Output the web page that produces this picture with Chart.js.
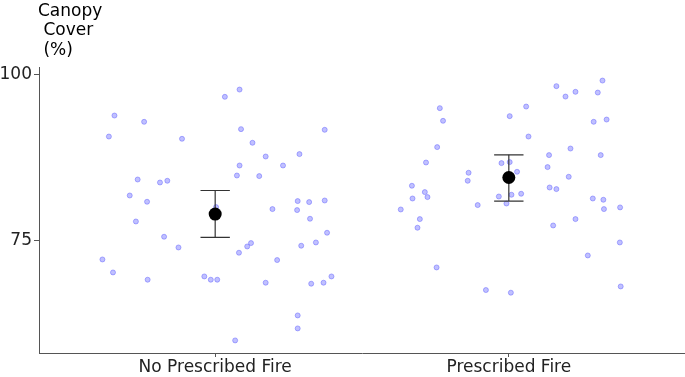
<!DOCTYPE html>
<html>
<head>
<meta charset="utf-8">
<script src="https://cdn.jsdelivr.net/npm/chart.js@4.4.1/dist/chart.umd.min.js"></script>
<style>
  body { margin: 0; background: #fff; }
</style>
</head>
<body>
<canvas id="canopy" width="685" height="377"></canvas>
<script>
// categories and tick values
const categories = ['No Prescribed Fire', 'Prescribed Fire'];
const yTicks = [75, 100];
const titleLines = ['Canopy', ' Cover', ' (%)'];

// jittered plot positions (category units) and canopy cover values
const noFireX = [1.083, 1.033, 0.657, 0.758, 0.638, 1.088, 0.887, 1.127, 1.083, 1.074,
  1.150, 0.736, 0.812, 0.837, 0.709, 0.768, 1.003, 0.730, 0.826, 0.875,
  0.616, 0.652, 0.770, 0.963, 0.985, 1.007, 1.081, 1.109, 1.122, 1.068,
  1.373, 1.172, 1.287, 1.231, 1.281, 1.320, 1.373, 1.195, 1.279, 1.323,
  1.381, 1.343, 1.293, 1.211, 1.172, 1.327, 1.369, 1.396, 1.281, 1.281];
const noFireY = [97.69, 96.60, 93.79, 92.85, 90.64, 91.75, 90.30, 89.70, 86.29, 84.79,
  84.70, 84.19, 83.74, 84.00, 81.79, 80.85, 80.05, 77.89, 75.60, 73.99,
  72.19, 70.24, 69.15, 69.64, 69.15, 69.15, 73.20, 74.14, 74.65, 60.04,
  91.65, 87.64, 88.00, 86.29, 80.95, 80.80, 81.04, 79.75, 79.60, 78.30,
  76.20, 74.74, 74.25, 72.10, 68.70, 68.55, 68.70, 69.64, 63.79, 61.84];

const fireX = [2.162, 1.765, 2.059, 2.003, 1.776, 2.067, 1.756, 1.718, 2.137, 2.132,
  1.975, 2.003, 1.863, 2.028, 1.860, 1.670, 1.714, 1.672, 1.723, 2.139,
  2.162, 1.966, 2.009, 2.042, 1.992, 1.894, 1.632, 1.697, 1.689, 2.151,
  1.754, 1.922, 2.007, 2.319, 2.227, 2.193, 2.303, 2.289, 2.333, 2.210,
  2.313, 2.204, 2.286, 2.322, 2.379, 2.324, 2.227, 2.378, 2.269, 2.381];
const fireY = [98.20, 94.90, 95.14, 93.70, 93.00, 90.64, 89.05, 86.74, 87.85, 86.05,
  86.65, 86.80, 85.20, 85.35, 84.00, 83.25, 82.30, 81.34, 81.55, 82.99,
  82.75, 81.64, 81.90, 82.05, 80.59, 80.35, 79.69, 78.25, 76.95, 77.29,
  70.99, 67.60, 67.20, 99.04, 97.35, 96.64, 97.24, 92.85, 93.19, 88.84,
  87.85, 84.60, 81.34, 81.15, 80.00, 79.75, 78.25, 74.74, 72.79, 68.14];

// group means with lower / upper error bar ends
const means = [79.00, 84.49];
const lower = [75.49, 80.95];
const upper = [82.54, 87.90];

const capHalf = 0.05;
const FONT = '"DejaVu Sans", Arial, sans-serif';

const zip = (xs, ys) => xs.map((x, i) => ({ x: x, y: ys[i] }));

const barStyle = {
  type: 'line',
  showLine: true,
  borderColor: '#333',
  borderWidth: 1.2,
  pointRadius: 0,
  fill: false,
  order: 1
};

const errorSets = [];
means.forEach((m, i) => {
  const cx = i + 1;
  errorSets.push(Object.assign({}, barStyle, { data: [{ x: cx, y: lower[i] }, { x: cx, y: upper[i] }] }));
  errorSets.push(Object.assign({}, barStyle, { data: [{ x: cx - capHalf, y: upper[i] }, { x: cx + capHalf, y: upper[i] }] }));
  errorSets.push(Object.assign({}, barStyle, { data: [{ x: cx - capHalf, y: lower[i] }, { x: cx + capHalf, y: lower[i] }] }));
});

const pointStyle = {
  pointRadius: 2.5,
  backgroundColor: 'rgba(130,130,255,0.5)',
  borderColor: 'rgba(95,95,255,0.6)',
  borderWidth: 0.8,
  order: 2
};

const titlePlugin = {
  id: 'topTitle',
  afterDraw(chart) {
    const ctx = chart.ctx;
    ctx.save();
    ctx.font = '17px ' + FONT;
    ctx.fillStyle = '#000';
    ctx.textAlign = 'left';
    ctx.textBaseline = 'alphabetic';
    titleLines.forEach((t, i) => {
      ctx.fillText(t, chart.chartArea.left - 1, 16 + i * 19.3);
    });
    ctx.restore();
  }
};

new Chart(document.getElementById('canopy').getContext('2d'), {
  type: 'scatter',
  data: {
    datasets: [
      Object.assign({ data: zip(noFireX, noFireY) }, pointStyle),
      Object.assign({ data: zip(fireX, fireY) }, pointStyle),
      ...errorSets,
      {
        data: means.map((m, i) => ({ x: i + 1, y: m })),
        pointRadius: 6.5,
        backgroundColor: '#000',
        borderColor: '#000',
        borderWidth: 0,
        order: 0
      }
    ]
  },
  options: {
    responsive: false,
    animation: false,
    layout: { autoPadding: false, padding: { top: 67.5, right: 0, left: 0, bottom: 0 } },
    plugins: {
      legend: { display: false },
      tooltip: { enabled: false }
    },
    scales: {
      x: {
        type: 'linear',
        min: 0.4,
        max: 2.6,
        afterBuildTicks: (axis) => { axis.ticks = categories.map((c, i) => ({ value: i + 1 })); },
        afterFit: (axis) => {
          axis.height = 24;
          axis.paddingLeft = 0;
          axis.paddingRight = 0;
        },
        ticks: {
          callback: (v) => categories[Math.round(v) - 1],
          font: { family: FONT, size: 17 },
          color: '#222',
          padding: 0,
          maxRotation: 0
        },
        grid: { display: true, drawOnChartArea: false, drawTicks: true, tickLength: 4, color: '#555' },
        border: { display: true, color: '#555', width: 1 }
      },
      y: {
        min: 58.15,
        max: 101,
        afterBuildTicks: (axis) => { axis.ticks = yTicks.map(v => ({ value: v })); },
        afterFit: (axis) => {
          axis.width = 39;
          axis.paddingTop = 0;
          axis.paddingBottom = 0;
        },
        ticks: {
          font: { family: FONT, size: 17 },
          color: '#222',
          padding: 2
        },
        grid: { display: true, drawOnChartArea: false, drawTicks: true, tickLength: 5, color: '#555' },
        border: { display: true, color: '#555', width: 1 }
      }
    }
  },
  plugins: [titlePlugin]
});
</script>
</body>
</html>
